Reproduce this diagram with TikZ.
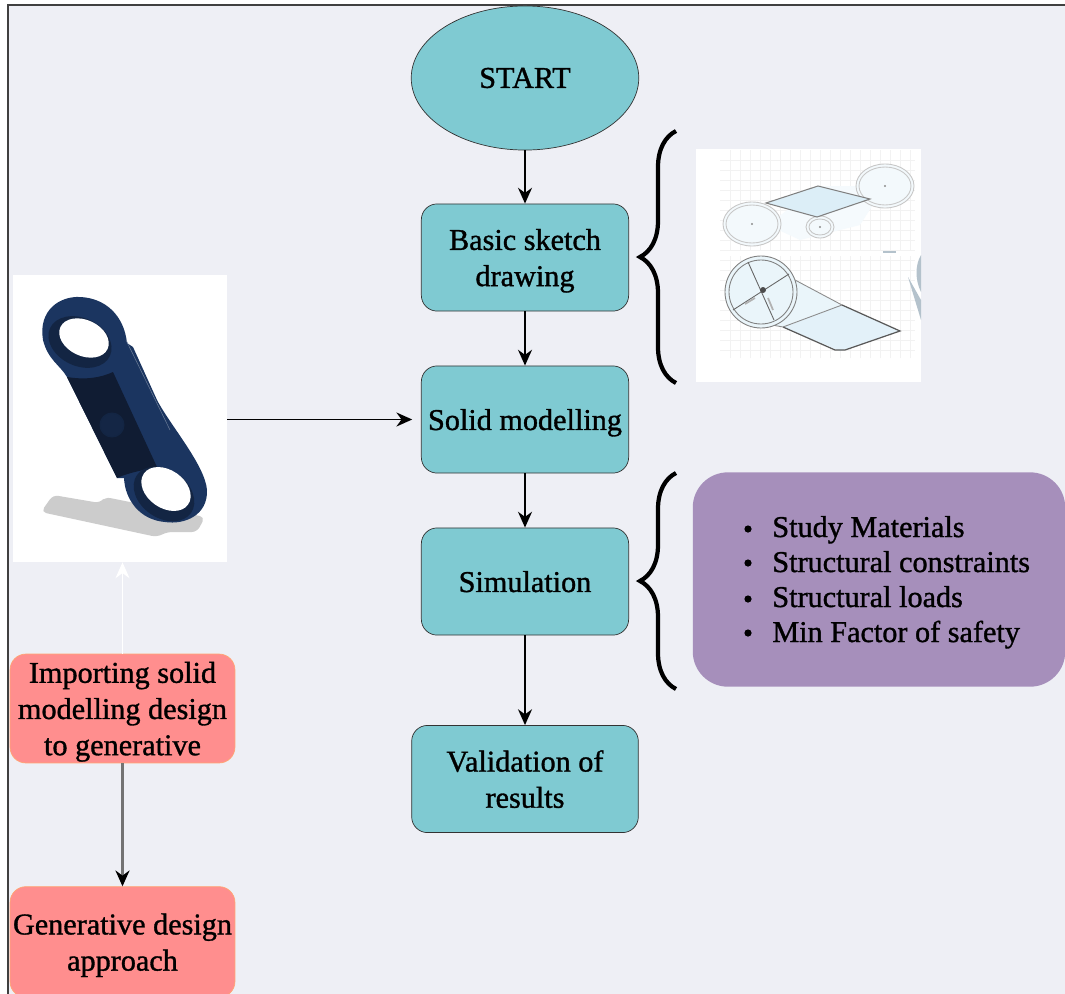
\documentclass[tikz,border=0pt]{standalone}
\usepackage{fontspec}
\setmainfont[RawFeature={embolden=1.1}]{Liberation Serif}
\usetikzlibrary{arrows.meta,shapes.geometric,decorations.pathreplacing}
\definecolor{pagebg}{HTML}{EEEFF5}
\definecolor{tealbox}{HTML}{7FCAD2}
\definecolor{redbox}{HTML}{FF8E8E}
\definecolor{redline}{HTML}{FFA573}
\definecolor{purplebox}{HTML}{A68FBB}
\definecolor{partblue}{HTML}{1B3560}
\definecolor{partdark}{HTML}{101C33}
\definecolor{sketchblue}{HTML}{DCEEF7}
\definecolor{shard}{HTML}{B4C2CC}
\begin{document}
\begin{tikzpicture}[x = 0.02cm, y = -0.02cm, font = \fontsize{17.2}{20.6}\selectfont,
    flowbox/.style = {draw = black!80, fill = tealbox, rounded corners = 9pt, align = center, minimum height = 61pt, text depth = 0pt},
    redstep/.style = {draw = redline, fill = redbox, rounded corners = 9pt, align = center, minimum width = 128pt, minimum height = 62pt, inner sep = 0pt, text depth = 0pt},
    listitem/.style = {anchor = base west, inner sep = 0pt},
    flow/.style = {-{Stealth[length = 9pt, width = 8pt]}, line width = 0.8pt},
    bracket/.style = {decorate, decoration = {brace, amplitude = 20.5pt}, line width = 2.4pt}]
    \clip (0,0) rectangle (1065,994);
    \fill[white] (0,0) rectangle (1065,994);
    \fill[pagebg] (8,5) rectangle (1065,994);
    \draw[black!75, line width = 0.7pt] (8,994) -- (8,5) -- (1065,5);

    \node[draw = black!80, fill = tealbox, ellipse, minimum width = 129.5pt, minimum height = 82pt, inner sep = 0pt] (start) at (525,78) {START};
    \node[flowbox, minimum width = 118pt] (sketch) at (525,257.5) {Basic sketch\\drawing};
    \node[flowbox, minimum width = 118pt, inner sep = 0pt] (solid) at (525,419.5) {Solid modelling};
    \node[flowbox, minimum width = 118pt] (simulation) at (525,581.5) {Simulation};
    \node[flowbox, minimum width = 129pt] (validation) at (525,779) {Validation of\\results};

    \node[fill = white, minimum width = 121.7pt, minimum height = 163.4pt, inner sep = 0pt] (part) at (120,418.5) {};
    \node[fill = white, minimum width = 128pt, minimum height = 132.6pt, inner sep = 0pt] (plan) at (808.5,265.5) {};

    \node[redstep] (importing) at (122.5,708.5) {Importing solid\\modelling design\\to generative};
    \node[redstep, minimum height = 63pt] (generative) at (122.5,942) {Generative design\\approach};

    \node[fill = purplebox, rounded corners = 20pt, minimum width = 212pt, minimum height = 122pt, inner sep = 0pt] (factors) at (879,579.5) {};
    \node[listitem] (materials) at (772,537) {Study Materials};
    \node[listitem] (constraints) at (772,572) {Structural constraints};
    \node[listitem] (loads) at (772,607) {Structural loads};
    \node[listitem] (safety) at (772,642) {Min Factor of safety};
    \foreach \i/\ypos in {1/529, 2/563, 3/599, 4/633}
        \fill[black] (748,\ypos) circle(3.6);

    % part
    \fill[black!20, rounded corners = 3pt] (53,495) -- (41,512) -- (157,537) -- (167,532) -- (197,532) -- (205,517) -- (145,505) -- (105,497) -- (100,503) -- cycle;
    \fill[partblue] (43,340) .. controls (38,310) and (60,296) .. (80,297) .. controls (105,298) and (124,315) .. (127,343) -- (133,347)
        -- (157,400) .. controls (170,425) and (205,465) .. (207,490) .. controls (208,515) and (185,525) .. (165,522)
        .. controls (140,520) and (125,500) .. (124,478) -- (117,478) -- (67,377) .. controls (60,365) and (48,360) .. (43,340) -- cycle;
    \fill[partdark] (67,377) .. controls (85,380) and (100,378) .. (113,372) -- (157,467) .. controls (145,470) and (130,472) .. (117,478) -- cycle;
    \fill[partdark!60!partblue] (112,425) circle(12);
    \draw[partblue!70!black, line width = 0.6pt] (112,425) circle(12);
    \draw[partblue!65!white, line width = 0.3pt] (126,340) -- (170,430);
    \fill[partblue!70!black, rotate around = {-25:(80,342)}] (80,342) ellipse (33 and 24);
    \fill[white, rotate around = {-25:(84,338)}] (84,338) ellipse (26 and 18);
    \fill[partblue!70!black, rotate around = {-35:(164,494)}] (164,494) ellipse (33 and 24);
    \fill[white, rotate around = {-35:(166,489)}] (166,489) ellipse (27 and 19);

    % plan
    \begin{scope}
        \draw[black!5, line width = 0.3pt, step = 0.2cm] (720,150) grid (915,250);
        \draw[black!5, line width = 0.3pt, step = 0.2cm] (720,256) grid (915,358);
        \fill[sketchblue!30] (768,225) -- (818,186) -- (885,186) -- (860,225) -- (800,240) -- cycle;
        \foreach \xpos/\ypos/\rx/\ry in {885/186/29/22, 752/224/29/22, 820/227/14/11} {
            \fill[sketchblue!35] (\xpos,\ypos) ellipse [x radius = \rx, y radius = \ry];
            \draw[black!22, line width = 0.5pt] (\xpos,\ypos) ellipse [x radius = \rx, y radius = \ry];
            \draw[black!22, line width = 0.5pt] (\xpos,\ypos) ellipse [x radius = \rx-3, y radius = \ry-3];
            \fill[black!45] (\xpos,\ypos) circle(1.2);
        }
        \fill[sketchblue] (766,203) -- (818,186) -- (870,199) -- (817,217) -- cycle;
        \draw[black!50, line width = 0.6pt] (766,203) -- (818,186) -- (870,199) -- (817,217) -- cycle;
        \fill[sketchblue!60] (795,280) -- (842,305) -- (783,327) -- (772,325) -- cycle;
        \fill[sketchblue!80] (842,305) -- (900,331) -- (840,351) -- (783,327) -- cycle;
        \draw[black!65, line width = 0.7pt] (842,305) -- (900,331) -- (845,350) -- (835,350) -- (783,327);
        \draw[black!45, line width = 0.5pt] (842,305) -- (783,327) (795,280) -- (842,305) (772,325) -- (783,327);
        \fill[sketchblue!60] (761,292) circle(36);
        \draw[black!50, line width = 0.5pt] (761,292) circle(36);
        \draw[black!50, line width = 0.5pt] (761,292) circle(32);
        \draw[black!60, line width = 0.5pt] (733,310) -- (789,274) (748,262) -- (774,320);
        \fill[black!70] (763,290) circle(3);
        \draw[black!30, line width = 1pt] (745,304) -- (755,298) (768,298) -- (773,310);
        \fill[shard] (908,277) -- (921,300) -- (921,320) -- cycle;
        \fill[shard] (921,255) .. controls (915,265) and (915,280) .. (921,292) -- cycle;
        \draw[shard, line width = 1pt] (883,252) -- (896,252);
    \end{scope}

    \draw[flow] (start) -- (sketch);
    \draw[flow] (sketch) -- (solid);
    \draw[flow] (solid) -- (simulation);
    \draw[flow] (simulation) -- (validation);
    \draw[flow, shorten > = 5pt] (part.east |- solid) -- (solid);
    \draw[-{Stealth[length = 9pt, width = 8pt]}, white, line width = 0.8pt] (importing.north) -- (importing.north |- part.south);
    \draw[-{Stealth[length = 9pt, width = 8pt, black]}, black!55, line width = 1.6pt] (importing) -- (generative);

    \coordinate (sketchtop) at (676,131);
    \coordinate (sketchbottom) at (676,383);
    \coordinate (simtop) at (676,473);
    \coordinate (simbottom) at (676,689);
    \draw[bracket] (sketchbottom) -- (sketchtop);
    \draw[bracket] (simbottom) -- (simtop);
\end{tikzpicture}
\end{document}
